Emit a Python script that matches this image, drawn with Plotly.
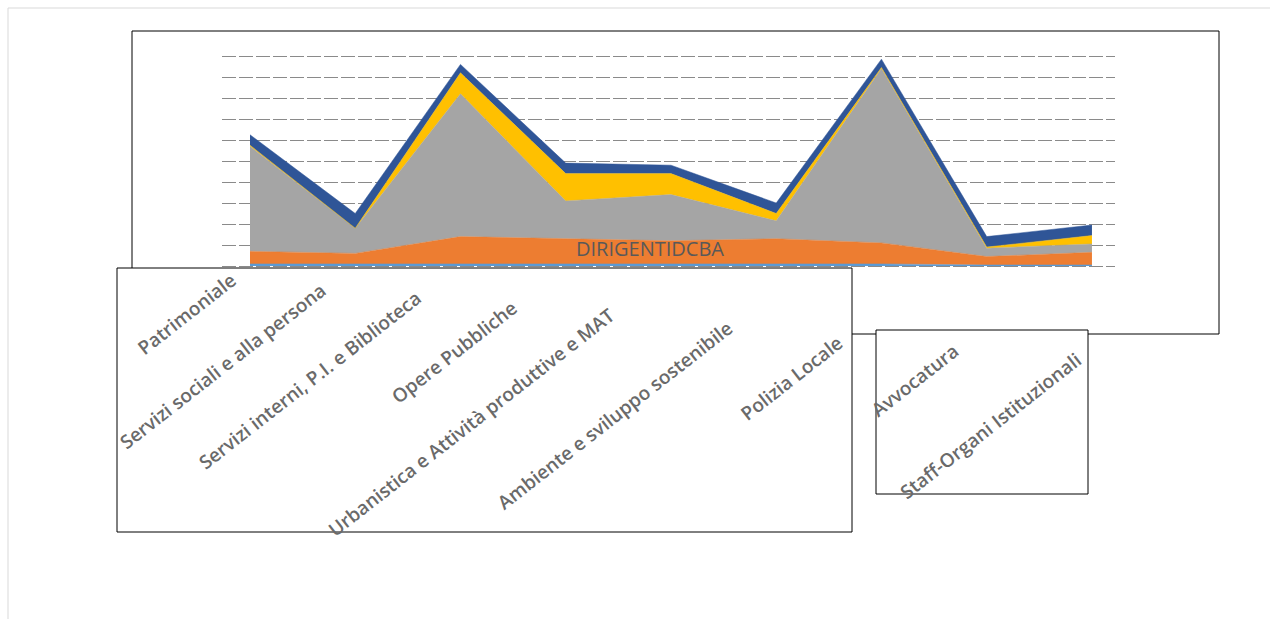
import plotly.graph_objects as go

# ---------------- data ----------------
categories = [
    "Patrimoniale",
    "Servizi sociali e alla persona",
    "Servizi interni, P.I. e Biblioteca",
    "Opere Pubbliche",
    "Urbanistica e Attività produttive e MAT",
    "Ambiente e sviluppo sostenibile",
    "Polizia Locale",
    "Avvocatura",
    "Staff-Organi Istituzionali",
]
series_names = ["DIRIGENTI", "D", "C", "B", "A"]
dirigenti = [1, 1, 1, 1, 1, 1, 1, 0.5, 0.5]
cat_d = [6, 5, 13, 12, 11, 12, 10, 4, 6]
cat_c = [50, 12, 68, 18, 22, 8.5, 83, 4, 4]
cat_b = [0.5, 0, 10, 13, 10, 3.5, 0.5, 0.5, 4]
cat_a = [5, 7, 4, 5, 4, 5, 4, 5, 5]
series_values = [dirigenti, cat_d, cat_c, cat_b, cat_a]
series_colors = ["#5B9BD5", "#ED7D31", "#A5A5A5", "#FFC000", "#2F5597"]
grid_values = list(range(0, 101, 10))

# ---------------- layout geometry (pixels) ----------------
W, H = 1270, 619
L, R, T, B = 222, 1115, 31, 334
BASE_PX = 266
PX_PER_UNIT = 2.1


def px(x):
    return (x - L) / (R - L)


def py(y):
    return (B - y) / (B - T)


fig = go.Figure()
xs = list(range(len(categories)))
for name, vals, col in zip(series_names, series_values, series_colors):
    fig.add_trace(go.Scatter(
        x=xs, y=vals, name=name, stackgroup="one", mode="lines",
        line=dict(width=0.5, color=col), fillcolor=col,
        hoverinfo="x+y+name",
    ))

shapes = []
# page frame lines (light)
shapes.append(dict(type="line", xref="paper", yref="paper",
                   x0=px(8), x1=px(1270), y0=py(8), y1=py(8),
                   line=dict(color="#d9d9d9", width=1), layer="below"))
shapes.append(dict(type="line", xref="paper", yref="paper",
                   x0=px(8), x1=px(8), y0=py(8), y1=py(619),
                   line=dict(color="#d9d9d9", width=1), layer="below"))
# plot-area border
shapes.append(dict(type="rect", xref="paper", yref="paper",
                   x0=px(132), x1=px(1219), y0=py(31), y1=py(334),
                   line=dict(color="#000000", width=1), layer="below"))
# category label boxes
shapes.append(dict(type="rect", xref="paper", yref="paper",
                   x0=px(117), x1=px(852), y0=py(268), y1=py(532),
                   line=dict(color="#000000", width=1), fillcolor="white",
                   layer="above"))
shapes.append(dict(type="rect", xref="paper", yref="paper",
                   x0=px(876), x1=px(1088), y0=py(330), y1=py(494),
                   line=dict(color="#000000", width=1), fillcolor="white",
                   layer="above"))

label_anchor_x = [244, 334, 429, 525, 623, 741, 851, 967, 1089]
label_anchor_y = [265, 274, 282, 292, 299, 312, 327, 335, 344]
annotations = []
for lab, ax_, ay_ in zip(categories, label_anchor_x, label_anchor_y):
    annotations.append(dict(
        text=lab, xref="paper", yref="paper", x=px(ax_), y=py(ay_),
        xanchor="right", yanchor="top", showarrow=False, textangle=-38,
        font=dict(family="Open Sans", size=19, color="#6a6a6a", weight=600),
    ))
annotations.append(dict(
    text="".join(series_names), xref="paper", yref="paper",
    x=px(650), y=py(248), xanchor="center", yanchor="middle",
    showarrow=False,
    font=dict(family="Open Sans", size=20, color="#595959"),
))

fig.update_layout(
    width=W, height=H, autosize=False,
    margin=dict(l=L, r=W - R, t=T, b=H - B, pad=0),
    paper_bgcolor="white", plot_bgcolor="white",
    showlegend=False,
    xaxis=dict(range=[-0.266, 8.219], showgrid=False, zeroline=False,
               showticklabels=False, showline=False, ticks=""),
    yaxis=dict(range=[-(B - BASE_PX) / PX_PER_UNIT, (BASE_PX - T) / PX_PER_UNIT],
               tickvals=grid_values, showticklabels=False,
               showgrid=True, gridcolor="#8a8a8a", griddash="14px,3px",
               gridwidth=1.3, zeroline=False, showline=False, ticks=""),
    shapes=shapes,
    annotations=annotations,
)

fig.write_html("out.html")
